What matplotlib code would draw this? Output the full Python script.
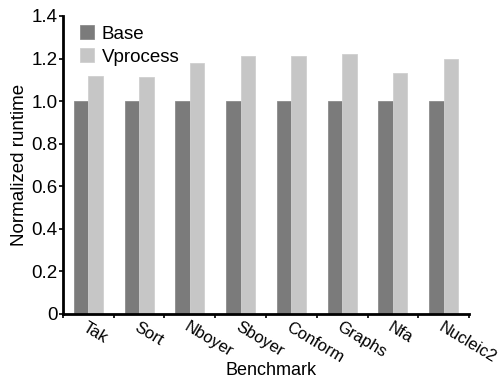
import matplotlib
matplotlib.use("Agg")
import matplotlib.pyplot as plt
import matplotlib.transforms as mtransforms
import numpy as np

plt.rcParams["font.family"] = ["Liberation Sans", "DejaVu Sans"]

benchmarks = ["Tak", "Sort", "Nboyer", "Sboyer", "Conform", "Graphs", "Nfa", "Nucleic2"]
base = [1.0, 1.0, 1.0, 1.0, 1.0, 1.0, 1.0, 1.0]
vprocess = [1.12, 1.114, 1.178, 1.21, 1.21, 1.219, 1.13, 1.199]

fig = plt.figure(figsize=(4.99, 3.80), dpi=100)
ax = fig.add_axes([0.126, 0.174, 0.814, 0.784])

x = np.arange(len(benchmarks))
w = 0.285
ax.bar(x - w / 2, base, w, color="#7b7b7b", edgecolor="#8c8c8c", linewidth=0.6, label="Base")
ax.bar(x + w / 2, vprocess, w, color="#c6c6c6", edgecolor="#d0d0d0", linewidth=0.6, label="Vprocess")

ax.set_xlim(-0.5, 7.5)
ax.set_ylim(0, 1.4)
ax.set_yticks([0, 0.2, 0.4, 0.6, 0.8, 1.0, 1.2, 1.4])
ax.set_yticklabels(["0", "0.2", "0.4", "0.6", "0.8", "1.0", "1.2", "1.4"])

# boundary ticks between groups, labels at group centres
ax.set_xticks(np.arange(-0.5, 8, 1.0))
ax.set_xticklabels([])
ax.set_xticks(x, minor=True)
ax.set_xticklabels(benchmarks, minor=True, rotation=-31, ha="left", va="top",
                   rotation_mode="anchor")
shift = mtransforms.ScaledTranslation(-6 / 100, 0, fig.dpi_scale_trans)
for lab in ax.get_xticklabels(minor=True):
    lab.set_transform(lab.get_transform() + shift)
ax.tick_params(axis="x", which="minor", length=0, pad=4, labelsize=12)
ax.tick_params(axis="x", which="major", length=3, width=1.2, direction="out")
ax.tick_params(axis="y", length=3, width=1.2, direction="out", pad=1, labelsize=13.5)

for s in ["top", "right"]:
    ax.spines[s].set_visible(False)
for s in ["left", "bottom"]:
    ax.spines[s].set_linewidth(2)

ax.set_ylabel("Normalized runtime", fontsize=13.5, labelpad=2)
ax.set_xlabel("Benchmark", fontsize=13)
ax.xaxis.set_label_coords(0.512, -0.162)

ax.legend(loc="upper left", frameon=False, fontsize=13.5, handlelength=0.75, handleheight=0.75,
          handletextpad=0.4, labelspacing=0.3, borderaxespad=0.1, bbox_to_anchor=(0.02, 1.0))

fig.savefig("out.png", dpi=100)
